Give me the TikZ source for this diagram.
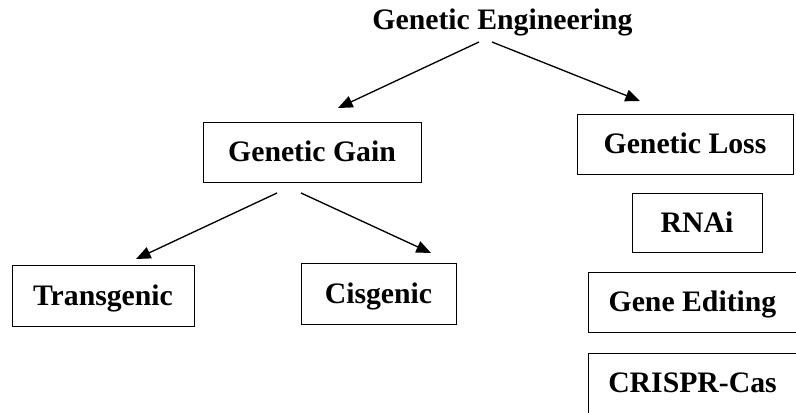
\documentclass[tikz,border=0pt]{standalone}
\usepackage{fontspec}
\setmainfont{Liberation Serif}
\usetikzlibrary{arrows.meta}

\begin{document}
\begin{tikzpicture}[x=0.75pt, y=-0.75pt,
  lbl/.style={font=\fontsize{22.3}{26}\selectfont\bfseries},
  box/.style={lbl, draw, line width=0.75pt, inner sep=0pt, text height=15.5pt, text depth=2pt},
  arr/.style={line width=1pt, -{Triangle[length=11pt,width=9pt]}}]
  \useasboundingbox (0,0) rectangle (796,413);

  \node[lbl, anchor=base] (eng) at (502.5,30) {Genetic Engineering};
  \node[box, minimum width=163.5pt, minimum height=45pt] (gain) at (312,153) {Genetic Gain};
  \node[box, minimum width=162pt, minimum height=45pt] (loss) at (685,145) {Genetic Loss};
  \node[box, minimum width=136.5pt, minimum height=45.75pt] (trans) at (103,296.5) {Transgenic};
  \node[box, minimum width=116.25pt, minimum height=45.75pt] (cis) at (378.5,294.5) {Cisgenic};
  \node[box, minimum width=97.5pt, minimum height=44.25pt] (rnai) at (697,223.5) {RNAi};
  \node[box, minimum width=156.75pt, minimum height=44.25pt] (edit) at (692.5,302.5) {Gene Editing};
  \node[box, minimum width=156.75pt, minimum height=45pt] (crispr) at (692.5,383) {CRISPR-Cas};

  % arrow ends
  \coordinate (eng-l) at (479,42);
  \coordinate (eng-r) at (492,42);
  \coordinate (gain-in) at (338,108);
  \coordinate (loss-in) at (640,101);
  \coordinate (gain-l) at (277,193);
  \coordinate (gain-r) at (301,193);
  \coordinate (trans-in) at (136,259);
  \coordinate (cis-in) at (431,253);

  \draw[arr] (eng-l) -- (gain-in);
  \draw[arr] (eng-r) -- (loss-in);
  \draw[arr] (gain-l) -- (trans-in);
  \draw[arr] (gain-r) -- (cis-in);
\end{tikzpicture}
\end{document}
